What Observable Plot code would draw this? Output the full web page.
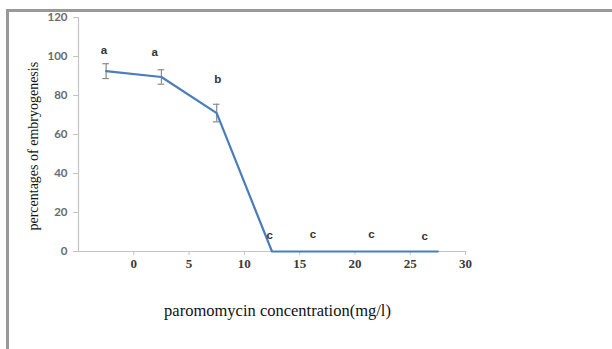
<!DOCTYPE html>
<html>
<head>
<meta charset="utf-8">
<script src="https://cdn.jsdelivr.net/npm/d3@7"></script>
<script src="https://cdn.jsdelivr.net/npm/@observablehq/plot@0.6"></script>
<style>
  html, body { margin: 0; padding: 0; background: #fff; }
</style>
</head>
<body>
<div id="chart"></div>
<script>
// Data
const concentration = [-2.5, 2.5, 7.5, 12.5, 17.5, 22.5, 27.5];
const embryogenesis = [92.5, 89.5, 71, 0, 0, 0, 0];
const errorBar = [3.8, 3.7, 4.5, null, null, null, null];
const letters = ["a", "a", "b", "c", "c", "c", "c"];
const letterX = [-2.7, 1.9, 7.6, 12.3, 16.2, 21.5, 26.3];
const letterY = [103, 102, 88.5, 8.5, 8.8, 8.8, 7.7];
const xTicks = [0, 5, 10, 15, 20, 25, 30];
const yTicks = [0, 20, 40, 60, 80, 100, 120];
const xLabel = "paromomycin concentration(mg/l)";
const yLabel = "percentages of embryogenesis";

const points = concentration.map((x, i) => ({x, y: embryogenesis[i], e: errorBar[i]}));
const bars = points.filter(d => d.e != null);
const letterData = letters.map((t, i) => ({t, x: letterX[i], y: letterY[i]}));

const axisGray = "#c4c4c4";

const chart = Plot.plot({
  width: 612,
  height: 349,
  marginLeft: 78,
  marginRight: 147,
  marginTop: 17,
  marginBottom: 98,
  style: {background: "#fff", overflow: "visible"},
  x: {domain: [-5, 30]},
  y: {domain: [0, 120]},
  marks: [
    Plot.ruleY([0], {x1: -5.45, x2: 30.1, stroke: axisGray, strokeWidth: 1.2}),
    Plot.ruleX([-5], {stroke: axisGray, strokeWidth: 1.2}),
    Plot.axisY(yTicks, {
      tickSize: 5, tickPadding: 6, stroke: axisGray, label: null,
      fontFamily: "Lato, 'Liberation Sans', sans-serif", fontSize: 11.5, fontWeight: "bold",
      fill: "#6a6a6a"
    }),
    Plot.axisX(xTicks, {
      tickSize: 4, tickPadding: 3, stroke: axisGray, label: null,
      fontFamily: "'Liberation Serif', serif", fontSize: 13, fontWeight: "bold",
      fill: "#3a3a3a"
    }),
    Plot.ruleX(bars, {x: "x", y1: d => d.y - d.e, y2: d => d.y + d.e, stroke: "#8a8a8a", strokeWidth: 1.2}),
    Plot.ruleY(bars, {y: d => d.y - d.e, x1: d => d.x - 0.3, x2: d => d.x + 0.3, stroke: "#8a8a8a", strokeWidth: 1.2}),
    Plot.ruleY(bars, {y: d => d.y + d.e, x1: d => d.x - 0.3, x2: d => d.x + 0.3, stroke: "#8a8a8a", strokeWidth: 1.2}),
    Plot.line(points, {x: "x", y: "y", stroke: "#4a7ebb", strokeWidth: 2.2}),
    Plot.text(letterData, {
      x: "x", y: "y", text: "t",
      fontFamily: "'Liberation Sans', sans-serif", fontSize: 11.5, fontWeight: "bold", fill: "#333"
    }),
    Plot.text([{t: yLabel, y: 54}], {
      text: "t", y: "y", frameAnchor: "left", textAnchor: "middle", dx: -45, rotate: -90,
      fontFamily: "'Liberation Serif', serif", fontSize: 14, fill: "#111"
    }),
    Plot.text([{t: xLabel, x: 13}], {
      text: "t", x: "x", frameAnchor: "bottom", textAnchor: "middle", dy: 64,
      fontFamily: "'Liberation Serif', serif", fontSize: 16.5, fill: "#111"
    })
  ]
});
// decorative outer frame of the original figure (top and left edges)
const svg = d3.select(chart);
svg.append("rect").attr("x", 7).attr("y", 9).attr("width", 605).attr("height", 3)
  .attr("fill", "#999");
svg.append("rect").attr("x", 6).attr("y", 9).attr("width", 3).attr("height", 340)
  .attr("fill", "#999");
document.getElementById("chart").appendChild(chart);
</script>
</body>
</html>
